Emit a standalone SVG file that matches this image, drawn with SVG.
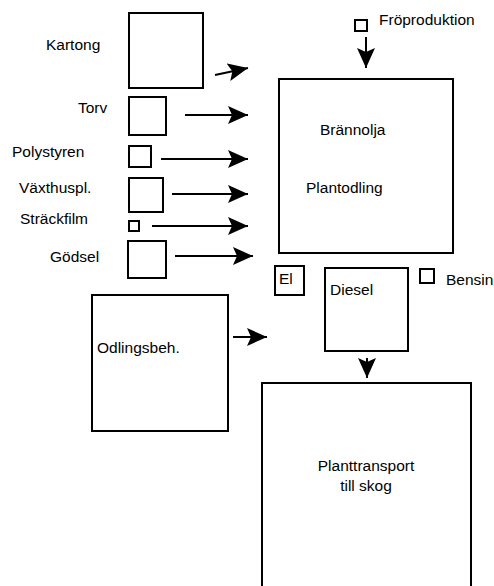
<svg xmlns="http://www.w3.org/2000/svg" width="494" height="586" viewBox="0 0 494 586">
  <defs>
    <marker id="head" markerUnits="userSpaceOnUse" markerWidth="20" markerHeight="18" refX="20" refY="9" orient="auto">
      <path d="M0,0 L20,9 L0,18 L4,9 Z" fill="#000"/>
    </marker>
  </defs>
  <style>
    .box { fill: #fff; stroke: #000; stroke-width: 2; }
    .lbl { font-family: "Liberation Sans", Arial, sans-serif; font-size: 15.5px; fill: #000; }
    .mid { text-anchor: middle; }
    .conn { stroke: #000; stroke-width: 2; fill: none; marker-end: url(#head); }
  </style>
  <rect width="494" height="586" fill="#fff"/>

  <!-- input materials -->
  <g id="kartong">
    <rect class="box" x="129" y="13" width="74" height="75"/>
    <text class="lbl" x="46" y="50">Kartong</text>
  </g>
  <g id="torv">
    <rect class="box" x="129" y="97" width="37" height="38"/>
    <text class="lbl" x="78" y="113">Torv</text>
  </g>
  <g id="polystyren">
    <rect class="box" x="129" y="146" width="22" height="21"/>
    <text class="lbl" x="12" y="157">Polystyren</text>
  </g>
  <g id="vaxthuspl">
    <rect class="box" x="129" y="178" width="34" height="34"/>
    <text class="lbl" x="19" y="193">Växthuspl.</text>
  </g>
  <g id="strackfilm">
    <rect class="box" x="129" y="221" width="10" height="10"/>
    <text class="lbl" x="20" y="224">Sträckfilm</text>
  </g>
  <g id="godsel">
    <rect class="box" x="128" y="241" width="38" height="37"/>
    <text class="lbl" x="50" y="262">Gödsel</text>
  </g>

  <!-- seed production -->
  <g id="froproduktion">
    <rect class="box" x="355" y="20" width="12" height="11"/>
    <text class="lbl" x="379" y="25">Fröproduktion</text>
  </g>

  <!-- plant nursery -->
  <g id="plantodling">
    <rect class="box" x="279" y="79" width="174" height="174"/>
    <text class="lbl" x="320" y="135">Brännolja</text>
    <text class="lbl" x="306" y="193">Plantodling</text>
  </g>

  <!-- energy sources -->
  <g id="el">
    <rect class="box" x="275" y="266" width="29" height="29"/>
    <text class="lbl" x="279" y="284">El</text>
  </g>
  <g id="diesel">
    <rect class="box" x="325" y="268" width="83" height="83"/>
    <text class="lbl" x="330" y="295">Diesel</text>
  </g>
  <g id="bensin">
    <rect class="box" x="420" y="269" width="14" height="14"/>
    <text class="lbl" x="446" y="285">Bensin</text>
  </g>

  <!-- growing containers -->
  <g id="odlingsbeh">
    <rect class="box" x="92" y="295" width="136" height="136"/>
    <text class="lbl" x="97" y="353">Odlingsbeh.</text>
  </g>

  <!-- transport to forest -->
  <g id="planttransport">
    <rect class="box" x="262" y="383" width="209" height="215"/>
    <text class="lbl mid" x="366" y="471">Planttransport</text>
    <text class="lbl mid" x="366" y="491">till skog</text>
  </g>

  <!-- flows -->
  <g id="connectors">
    <line class="conn" x1="215" y1="75" x2="248" y2="68"/>
    <line class="conn" x1="185" y1="115" x2="248" y2="115"/>
    <line class="conn" x1="161" y1="159" x2="248" y2="159"/>
    <line class="conn" x1="172" y1="194" x2="248" y2="194"/>
    <line class="conn" x1="152" y1="226" x2="248" y2="226"/>
    <line class="conn" x1="175" y1="256" x2="253" y2="256"/>
    <line class="conn" x1="366" y1="37" x2="366" y2="68"/>
    <line class="conn" x1="233" y1="337" x2="267" y2="337"/>
    <line class="conn" x1="367" y1="358" x2="367" y2="378"/>
  </g>
</svg>
